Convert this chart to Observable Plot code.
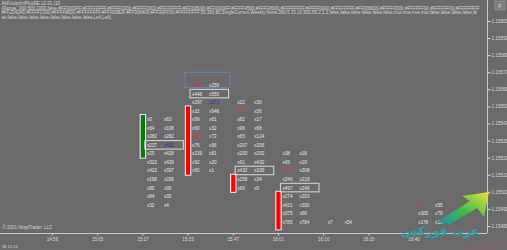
<!DOCTYPE html>
<html><head><meta charset="utf-8">
<script src="https://cdn.jsdelivr.net/npm/d3@7"></script>
<script src="https://cdn.jsdelivr.net/npm/@observablehq/plot@0.6"></script>
<style>
html,body{margin:0;padding:0;background:#6b6b6b;overflow:hidden;}
#chart{position:relative;width:507px;height:250px;}
</style></head>
<body><div id="chart"></div>
<script>
// ---- data ----
const slotLabels = ["14:56","15:05","15:27","15:33","15:47","16:01","16:10","16:20","16:40"];
const slotIndex = [0,1,2,3,4,5,6,7,8];
const priceTicks = [1.156,1.1559,1.1558,1.1557,1.1556,1.1555,1.1554,1.1553,1.1552,1.1551,1.155,1.1549,1.1548];
const rowTick = 0.00005;

const colSlot = [2, 3, 4, 5, 6, 8];
const colTopPrice = [1.15545, 1.15565, 1.15555, 1.15525, 1.15485, 1.15495];
const bidVolumes = [
  [0,64,282,237,25,323,423,198,95,84,32],
  [150,448,297,32,99,60,427,76,239,92,60],
  [22,77,82,96,65,207,200,61,432,258,66],
  [38,43,472,246,497,274,431,375,785],
  [7],
  [4,305,178]
];
const askVolumes = [
  [63,108,282,410,428,439,397,206,99,35,4],
  [259,550,271,946,61,32,72,96,81,20,1],
  [30,36,17,68,124,206,202,432,339,34,0],
  [18,19,308,218,248,203,390,66,784],
  [54],
  [55,79,16]
];
const redBidCells = [[3,1.15565],[3,1.15535],[4,1.1555],[5,1.15515],[8,1.15495]];
const blueAskCells = [[2,1.1553],[3,1.15555]];
const boxedRows = [[2,1.1553],[3,1.1556],[4,1.15515],[5,1.15505]];
const blueBox = [{slot:3, high:1.1557, low:1.15561}];

const barSlot = [2,3,4,5];
const barHigh = [1.15545,1.1555,1.1551,1.155];
const barLow  = [1.1552,1.1551,1.155,1.15478];
const barColor = ["#008000","#ff0000","#ff0000","#ff0000"];

const headerLines = [
  "AbFootprintPlusSE 12-21 (10",
  "(Range, 300,500,1000,false,#FF0000FF,#FFFFFFFF,#FFFF0000,#FFFF0000,#FFFFFFFF,#FF008000,#FF0000FF,#FFFF4500,#FFFF8000,#FFFFFFFF,#FFFF0000,#FFFFFFFF,#FF008000,#FFFF0000,#FFFFFF00,#FFFFFF00,#FFFFFFFF",
  "#FF2242A5,#FFFFC000,#FFFF8000,#FFFFFFFF,#FF000B2F,#FF006400,#FF00FF00,#FFFFFFFF,50,356,80,SingleCurrent,Weekly,None,360,5,15,10,500,50,2,1,2,false,false,false,false,false,false,true,true,true,true,false,false,false,false,fa",
  "se,false,false,false,false,false,false,false,false,Left,Left)"
];

// ---- build tables ----
const key = (s,p) => s + ":" + p.toFixed(5);
const redSet = new Set(redBidCells.map(([s,p]) => key(s,p)));
const blueSet = new Set(blueAskCells.map(([s,p]) => key(s,p)));
const cells = [];
colSlot.forEach((s, c) => {
  bidVolumes[c].forEach((b, i) => {
    const price = +(colTopPrice[c] - i*rowTick).toFixed(5);
    cells.push({slot:s, price, bid:"x"+b, ask:"x"+askVolumes[c][i],
      bidColor: redSet.has(key(s,price)) ? "#e8282a" : "#e4e4e4",
      askColor: blueSet.has(key(s,price)) ? "#2a2ac8" : "#e4e4e4"});
  });
});
const bars = barSlot.map((s,i) => ({slot:s, high:barHigh[i], low:barLow[i], color:barColor[i]}));
const boxes = boxedRows.map(([s,p]) => ({slot:s, price:p}));

const W = 507, H = 250, mR = 20, mB = 17;
const xDomain = [-1.15, 9.624];
const yDomain = [1.154759, 1.156123];
const pxPerSlot = (W - mR) / (xDomain[1] - xDomain[0]);
const px = v => v / pxPerSlot;

const fontSize = 4.6;
const plot = Plot.plot({
  width: W, height: H,
  marginTop: 0, marginLeft: 0, marginRight: mR, marginBottom: mB,
  style: {background: "#6b6b6b", color: "#dadada", fontSize: "4.6px", fontFamily: "Liberation Sans, Arial, sans-serif"},
  x: {domain: xDomain, ticks: slotIndex, tickFormat: i => slotLabels[i], tickSize: 2.5, tickPadding: 1.5, label: null},
  y: {domain: yDomain, axis: "right", ticks: priceTicks, tickFormat: d3.format(".5f"), tickSize: 2.5, tickPadding: 1.5, label: null},
  color: {type: "identity"},
  marks: [
    Plot.ruleX([xDomain[1]], {stroke: "#c8c8c8"}),
    Plot.ruleY([yDomain[0]], {stroke: "#c8c8c8"}),
    // candle bars
    Plot.ruleX(bars, {x: "slot", y1: "high", y2: "low", stroke: "#e8e8e8", strokeWidth: 6.5, insetTop: -1, insetBottom: -1}),
    Plot.ruleX(bars, {x: "slot", y1: "high", y2: "low", stroke: "color", strokeWidth: 4.2}),
    // boxes
    Plot.rect(boxes, {x1: d => d.slot + px(2.4), x2: d => d.slot + px(41), y1: "price", y2: d => d.price - rowTick, stroke: "#d8d8d8", strokeWidth: 1, fill: "none"}),
    Plot.rect(blueBox, {x1: d => d.slot - px(2.6), x2: d => d.slot + px(42.4), y1: "high", y2: "low", stroke: "#5a88d0", strokeWidth: 1, fill: "none"}),
    // volumes
    Plot.text(cells, {x: "slot", y: d => d.price - rowTick/2, text: "bid", fill: "bidColor", textAnchor: "start", dx: 4, fontSize}),
    Plot.text(cells, {x: "slot", y: d => d.price - rowTick/2, text: "ask", fill: "askColor", textAnchor: "start", dx: 21, fontSize}),
    // header
    Plot.text([headerLines.join("\n")], {frameAnchor: "top-left", textAnchor: "start", lineAnchor: "top", dx: 1, dy: 1.2, lineHeight: 1.02, fill: "#d6d6d6", fontSize: 4.5}),
    Plot.text(["© 2021 NinjaTrader, LLC"], {frameAnchor: "bottom-left", textAnchor: "start", lineAnchor: "bottom", dx: 2, dy: -4.5, fill: "#d6d6d6", fontSize: 4.5}),
    Plot.text(["BI 12:21"], {frameAnchor: "bottom-left", textAnchor: "start", lineAnchor: "middle", dx: 2, dy: 13, fill: "#d6d6d6", fontSize: 4.2}),
    Plot.text(["NINJATRADER"], {frameAnchor: "bottom-right", textAnchor: "end", lineAnchor: "middle", dx: 19, dy: 13, fill: "#a85050", fillOpacity: 0.75, fontSize: 6}),
    Plot.text(["عرب فوركس"], {frameAnchor: "bottom-right", textAnchor: "end", lineAnchor: "bottom", dx: -8, dy: 1, fill: "#2aa3ad", fontSize: 12, fontWeight: "bold", fontFamily: "DejaVu Sans, sans-serif"})
  ]
});
document.getElementById("chart").appendChild(plot);

// decorative logo arrow and F button
const svg = d3.select(plot);
const defs = svg.append("defs");
const g = defs.append("linearGradient").attr("id","lg").attr("x1","0").attr("y1","1").attr("x2","1").attr("y2","0");
g.append("stop").attr("offset","0").attr("stop-color","#1f8fb0");
g.append("stop").attr("offset","0.45").attr("stop-color","#3cba4a");
g.append("stop").attr("offset","1").attr("stop-color","#e6e23a");
svg.append("path").attr("d","M437,222 L470,201 L462,196 L489,192 L484,217 L477,208 L450,224 Z").attr("fill","url(#lg)");
svg.append("rect").attr("x",495).attr("y",1).attr("width",10).attr("height",9).attr("fill","#7c7c7c").attr("stroke","#9a9a9a").attr("stroke-width",0.6);
svg.append("text").attr("x",500).attr("y",7.8).attr("text-anchor","middle").attr("font-size",6).attr("fill","#dcdcdc").text("F");
</script>
</body></html>
